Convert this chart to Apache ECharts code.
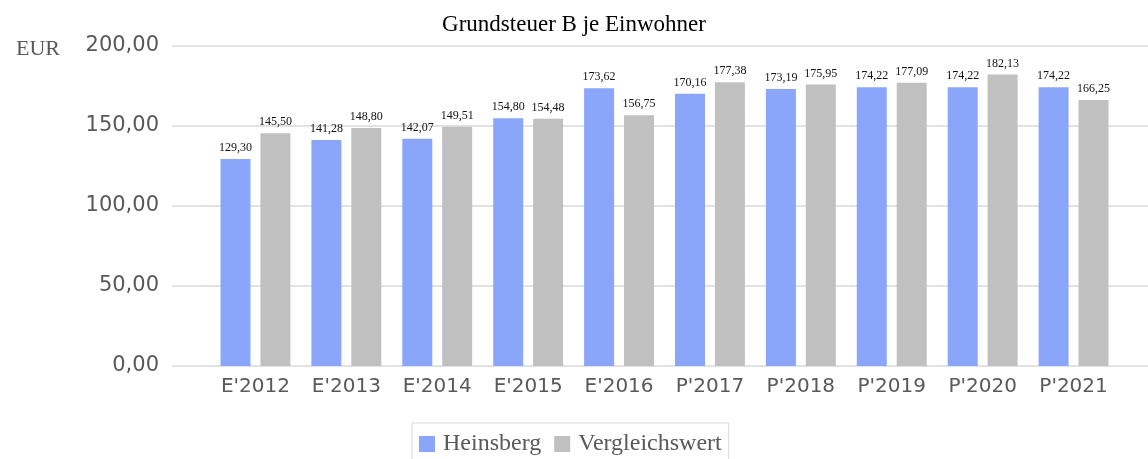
<!DOCTYPE html>
<html>
<head>
<meta charset="utf-8">
<script src="https://cdn.jsdelivr.net/npm/echarts@6/dist/echarts.min.js"></script>
<style>
  html, body { margin: 0; padding: 0; background: #fff; }
  #chart { width: 1148px; height: 459px; }
</style>
</head>
<body>
<div id="chart"></div>
<script>
// Daten
const categories = ["E'2012", "E'2013", "E'2014", "E'2015", "E'2016", "P'2017", "P'2018", "P'2019", "P'2020", "P'2021"];
const heinsberg = [129.30, 141.28, 142.07, 154.80, 173.62, 170.16, 173.19, 174.22, 174.22, 174.22];
const vergleichswert = [145.50, 148.80, 149.51, 154.48, 156.75, 177.38, 175.95, 177.09, 182.13, 166.25];
const yTicks = [0, 50, 100, 150, 200];

const fmt = v => Number(v).toFixed(2).replace('.', ',');
const serif = '"Liberation Serif", "Times New Roman", serif';
const sans = '"DejaVu Sans", Verdana, sans-serif';

const chart = echarts.init(document.getElementById('chart'));

const labelStyle = {
  show: true,
  position: 'top',
  distance: 5,
  fontFamily: serif,
  fontSize: 12,
  color: '#111',
  formatter: p => fmt(p.value)
};

chart.setOption({
  animation: false,
  title: [{
    text: 'Grundsteuer B je Einwohner',
    left: 569,
    textAlign: 'center',
    top: 8,
    textStyle: { fontFamily: serif, fontSize: 23, fontWeight: 'normal', color: '#000' }
  }, {
    text: 'EUR',
    left: 11,
    top: 33,
    textStyle: { fontFamily: serif, fontSize: 22, fontWeight: 'normal', color: '#595959' }
  }],
  legend: {
    data: ['Heinsberg', 'Vergleichswert'],
    left: 412,
    top: 423,
    padding: [9, 7, 20, 7],
    borderColor: '#d9d9d9',
    borderWidth: 1,
    itemWidth: 16,
    itemHeight: 16,
    itemGap: 13,
    icon: 'rect',
    textStyle: { fontFamily: serif, fontSize: 24, color: '#595959', padding: [0, 0, 0, 3] }
  },
  grid: [
    { left: 172, right: 0, top: 46, bottom: 93 },
    { left: 210, right: 29, top: 46, bottom: 93 }
  ],
  xAxis: [{
    gridIndex: 0, type: 'value', show: false
  }, {
    gridIndex: 1,
    type: 'category',
    data: categories,
    axisLine: { show: false },
    axisTick: { show: false },
    axisLabel: { fontFamily: sans, fontSize: 20, color: '#595959', margin: 11 }
  }],
  yAxis: [{
    gridIndex: 0,
    type: 'value',
    min: yTicks[0],
    max: yTicks[yTicks.length - 1],
    interval: 50,
    axisLine: { show: false },
    axisTick: { show: false },
    axisLabel: { fontFamily: sans, fontSize: 21, color: '#595959', margin: 13, formatter: fmt },
    splitLine: { lineStyle: { color: '#d9d9d9', width: 1.5 } }
  }, {
    gridIndex: 1,
    type: 'value',
    min: yTicks[0],
    max: yTicks[yTicks.length - 1],
    show: false
  }],
  series: [{
    name: 'Heinsberg',
    type: 'bar',
    xAxisIndex: 1,
    yAxisIndex: 1,
    data: heinsberg,
    barWidth: 30,
    barGap: '33%',
    itemStyle: { color: '#8aa6fa' },
    label: labelStyle
  }, {
    name: 'Vergleichswert',
    type: 'bar',
    xAxisIndex: 1,
    yAxisIndex: 1,
    data: vergleichswert,
    barWidth: 30,
    barGap: '33%',
    itemStyle: { color: '#c0c0c0' },
    label: labelStyle
  }]
});
</script>
</body>
</html>
